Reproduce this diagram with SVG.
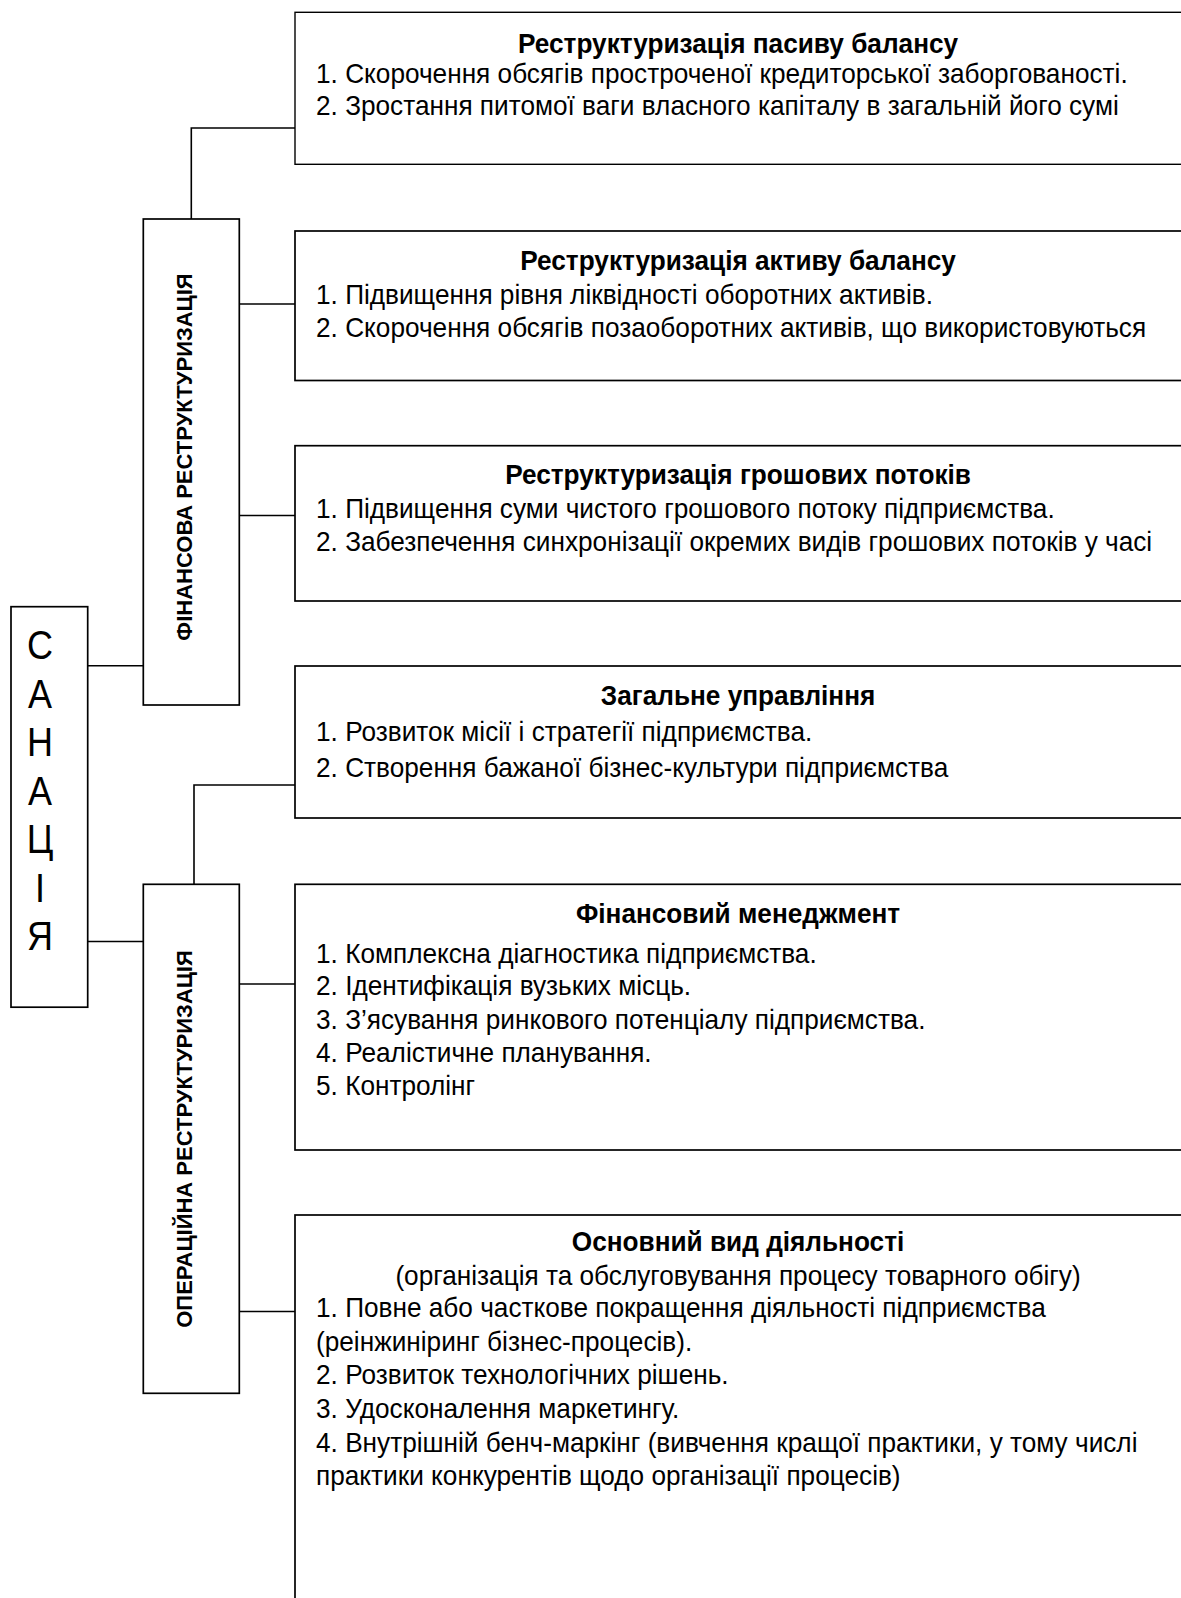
<svg xmlns="http://www.w3.org/2000/svg" width="1181" height="1598" viewBox="0 0 1181 1598">
<style>
  .box { fill: #ffffff; stroke: #000000; stroke-width: 1.7; }
  .conn { fill: none; stroke: #000000; stroke-width: 1.6; }
  .t { font-family: "Liberation Sans", Arial, sans-serif; font-size: 28px; fill: #000000; }
  .ttl { font-family: "Liberation Sans", Arial, sans-serif; font-size: 28px; font-weight: bold; fill: #000000; text-anchor: middle; }
  .c { text-anchor: middle; }
  .vert { font-family: "Liberation Sans", Arial, sans-serif; font-size: 22px; font-weight: bold; fill: #000000; text-anchor: middle; }
  .san { font-family: "Liberation Sans", Arial, sans-serif; font-size: 40px; fill: #000000; text-anchor: middle; }
</style>
<rect width="1181" height="1598" fill="#ffffff"/>

<g id="connectors">
  <path class="conn" d="M295,128 H191.3 V219"/>
  <path class="conn" d="M239.3,304 H295"/>
  <path class="conn" d="M239.3,515.5 H295"/>
  <path class="conn" d="M87.7,665.7 H143.3"/>
  <path class="conn" d="M295,785 H194 V884.3"/>
  <path class="conn" d="M87.7,941.5 H143.3"/>
  <path class="conn" d="M239.3,984 H295"/>
  <path class="conn" d="M239.3,1311.5 H295"/>
</g>

<g id="sanatsiia">
  <rect class="box" x="11" y="606.7" width="76.7" height="400.5"/>
  <g transform="translate(40 0) scale(0.9 1)">
    <text class="san" x="0" y="659">С</text>
    <text class="san" x="0" y="708">А</text>
    <text class="san" x="0" y="756.5">Н</text>
    <text class="san" x="0" y="805">А</text>
    <text class="san" x="0" y="853.5">Ц</text>
    <text class="san" x="0" y="902">І</text>
    <text class="san" x="0" y="950">Я</text>
  </g>
</g>

<g id="fin-restructuring">
  <rect class="box" x="143.3" y="219" width="96" height="486"/>
  <text class="vert" transform="translate(192,457) rotate(-90)">ФІНАНСОВА РЕСТРУКТУРИЗАЦІЯ</text>
</g>

<g id="oper-restructuring">
  <rect class="box" x="143.3" y="884.3" width="96" height="509"/>
  <text class="vert" transform="translate(192,1139) rotate(-90)">ОПЕРАЦІЙНА РЕСТРУКТУРИЗАЦІЯ</text>
</g>

<g id="passive">
  <rect class="box" x="295" y="12.3" width="890" height="152" style="stroke-width:1.4"/>
  <g transform="translate(316 0) scale(0.936 1)">
    <text class="ttl" x="450.9" y="53">Реструктуризація пасиву балансу</text>
    <text class="t" x="0" y="83">1. Скорочення обсягів простроченої кредиторської заборгованості.</text>
    <text class="t" x="0" y="115">2. Зростання питомої ваги власного капіталу в загальній його сумі</text>
  </g>
</g>

<g id="active">
  <rect class="box" x="295" y="231" width="890" height="149.5"/>
  <g transform="translate(316 0) scale(0.936 1)">
    <text class="ttl" x="450.9" y="270.5">Реструктуризація активу балансу</text>
    <text class="t" x="0" y="304.5">1. Підвищення рівня ліквідності оборотних активів.</text>
    <text class="t" x="0" y="337">2. Скорочення обсягів позаоборотних активів, що використовуються</text>
  </g>
</g>

<g id="cashflow">
  <rect class="box" x="295" y="445.7" width="890" height="155.3"/>
  <g transform="translate(316 0) scale(0.936 1)">
    <text class="ttl" x="450.9" y="484">Реструктуризація грошових потоків</text>
    <text class="t" x="0" y="518.5">1. Підвищення суми чистого грошового потоку підприємства.</text>
    <text class="t" x="0" y="551">2. Забезпечення синхронізації окремих видів грошових потоків у часі</text>
  </g>
</g>

<g id="general-mgmt">
  <rect class="box" x="295" y="666" width="890" height="152"/>
  <g transform="translate(316 0) scale(0.936 1)">
    <text class="ttl" x="450.9" y="705.5">Загальне управління</text>
    <text class="t" x="0" y="741">1. Розвиток місії і стратегії підприємства.</text>
    <text class="t" x="0" y="777.5">2. Створення бажаної бізнес-культури підприємства</text>
  </g>
</g>

<g id="fin-mgmt">
  <rect class="box" x="295" y="884.3" width="890" height="265.7"/>
  <g transform="translate(316 0) scale(0.936 1)">
    <text class="ttl" x="450.9" y="923">Фінансовий менеджмент</text>
    <text class="t" x="0" y="963">1. Комплексна діагностика підприємства.</text>
    <text class="t" x="0" y="995.5">2. Ідентифікація вузьких місць.</text>
    <text class="t" x="0" y="1029">3. З’ясування ринкового потенціалу підприємства.</text>
    <text class="t" x="0" y="1062.5">4. Реалістичне планування.</text>
    <text class="t" x="0" y="1095.5">5. Контролінг</text>
  </g>
</g>

<g id="main-activity">
  <rect class="box" x="295" y="1215" width="890" height="420"/>
  <g transform="translate(316 0) scale(0.936 1)">
    <text class="ttl" x="450.9" y="1251">Основний вид діяльності</text>
    <text class="t c" x="450.9" y="1285">(організація та обслуговування процесу товарного обігу)</text>
    <text class="t" x="0" y="1317.5">1. Повне або часткове покращення діяльності підприємства</text>
    <text class="t" x="0" y="1351">(реінжиніринг бізнес-процесів).</text>
    <text class="t" x="0" y="1384.5">2. Розвиток технологічних рішень.</text>
    <text class="t" x="0" y="1418.5">3. Удосконалення маркетингу.</text>
    <text class="t" x="0" y="1452">4. Внутрішній бенч-маркінг (вивчення кращої практики, у тому числі</text>
    <text class="t" x="0" y="1485.5">практики конкурентів щодо організації процесів)</text>
  </g>
</g>
</svg>
